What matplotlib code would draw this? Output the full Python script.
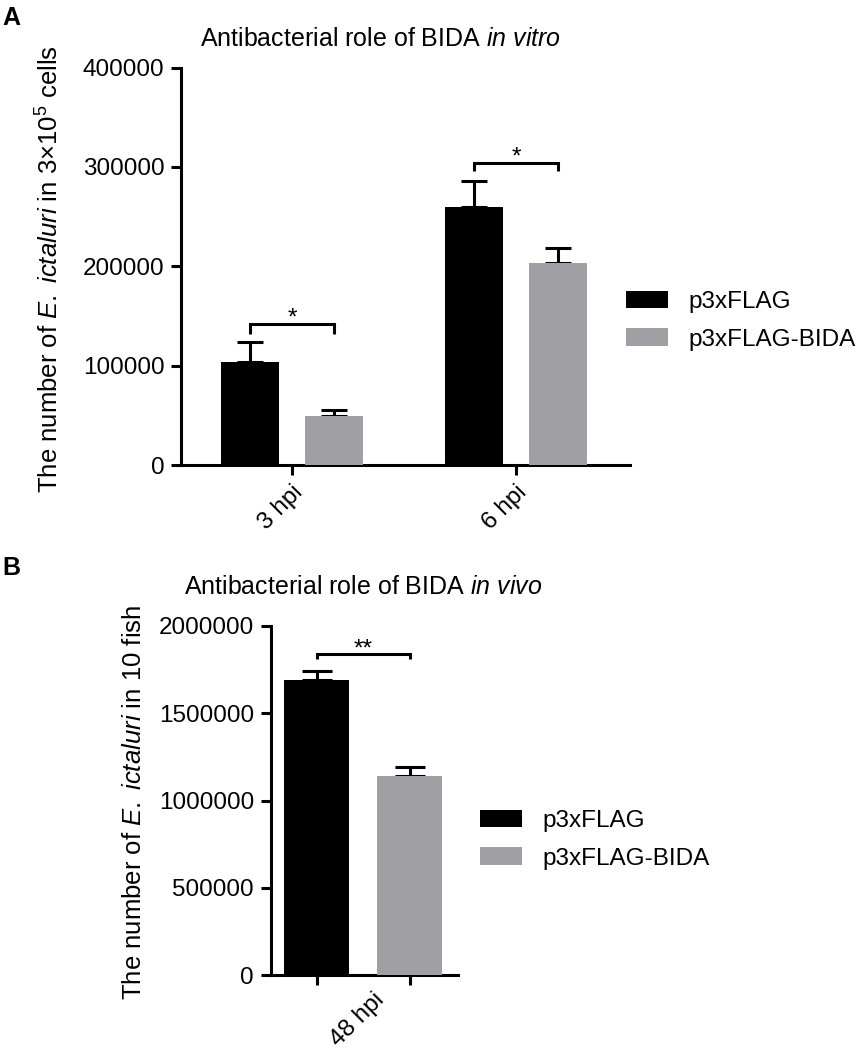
import matplotlib
matplotlib.use("Agg")
import matplotlib.pyplot as plt
import numpy as np

# ---------------- data ----------------
series_names = ["p3xFLAG", "p3xFLAG-BIDA"]
colors = ["#000000", "#a0a0a4"]

a_groups = ["3 hpi", "6 hpi"]
a_ctrl = [104000, 259500]
a_ctrl_err = [19400, 26200]
a_bida = [49800, 203000]
a_bida_err = [5800, 15100]
a_bracket = [141400, 303700]      # bracket heights
a_bracket_drop = [9400, 7600]
a_sig = ["*", "*"]
a_yticks = [0, 100000, 200000, 300000, 400000]

b_groups = ["48 hpi"]
b_ctrl = [1691000]
b_ctrl_err = [50000]
b_bida = [1140000]
b_bida_err = [53000]
b_bracket = [1840000]
b_bracket_drop = [31000]
b_sig = ["**"]
b_yticks = [0, 500000, 1000000, 1500000, 2000000]

# ---------------- style ----------------
plt.rcParams["font.family"] = ["Liberation Sans", "DejaVu Sans"]
plt.rcParams["mathtext.fontset"] = "custom"
plt.rcParams["mathtext.rm"] = "Liberation Sans"
plt.rcParams["mathtext.it"] = "Liberation Sans:italic"
plt.rcParams["mathtext.bf"] = "Liberation Sans:bold"

FS = 17.5
FS_LAB = 18.5
FS_TITLE = 18
LW = 2.2

W, H = 863, 1050
fig = plt.figure(figsize=(W / 100, H / 100), dpi=100)


def style_axes(ax):
    for s in ["top", "right"]:
        ax.spines[s].set_visible(False)
    for s in ["left", "bottom"]:
        ax.spines[s].set_linewidth(LW)
    ax.tick_params(axis="both", width=LW, length=7, labelsize=FS, pad=5)


def draw_panel(ax, groups, ctrl, ctrl_err, bida, bida_err, offs, width, cap):
    x = np.arange(len(groups))
    bars = []
    for vals, errs, off, col in [(ctrl, ctrl_err, -offs, colors[0]),
                                 (bida, bida_err, offs, colors[1])]:
        b = ax.bar(x + off, vals, width=width, color=col, zorder=3)
        ax.errorbar(x + off, vals, yerr=[np.zeros(len(vals)), errs], fmt="none",
                    ecolor="black", elinewidth=LW, capsize=cap, capthick=LW, zorder=2)
        bars.append(b)
    return x, bars


def brackets(ax, x, offs, levels, drops, sigs, star_gap):
    for xi, lv, dr, sg in zip(x, levels, drops, sigs):
        ax.plot([xi - offs, xi - offs, xi + offs, xi + offs],
                [lv - dr, lv, lv, lv - dr], color="black", lw=LW,
                solid_capstyle="butt", solid_joinstyle="miter", clip_on=False, zorder=4)
        ax.text(xi, lv + star_gap, sg, ha="center", va="center", fontsize=FS)


# ---------------- panel A ----------------
axA = fig.add_axes([181 / W, 1 - 465 / H, 449 / W, 397.5 / H])
style_axes(axA)
offA = 42 / 224
xA, barsA = draw_panel(axA, a_groups, a_ctrl, a_ctrl_err, a_bida, a_bida_err,
                       offA, 58 / 224, 9.7)
axA.set_xlim(-111 / 224, 338 / 224)
axA.set_ylim(0, 400000)
axA.set_yticks(a_yticks)
axA.set_yticklabels([str(v) for v in a_yticks])
axA.set_xticks(xA)
axA.set_xticklabels(a_groups, rotation=45, ha="right", rotation_mode="anchor")
brackets(axA, xA, offA, a_bracket, a_bracket_drop, a_sig, 6000)
axA.set_ylabel(r"The number of $\it{E.\ ictaluri}$ in 3×10$^{5}$ cells",
               fontsize=FS_LAB, va="center")
axA.yaxis.set_label_coords(-0.2918, 0.493)
axA.legend([barsA[0], barsA[1]], series_names, loc="upper left",
           bbox_to_anchor=(625.7 / W, 1 - 291 / H), bbox_transform=fig.transFigure,
           frameon=False, borderpad=0, borderaxespad=0, fontsize=FS,
           handlelength=1.73, handleheight=0.73, handletextpad=0.86, labelspacing=0.62)

# ---------------- panel B ----------------
axB = fig.add_axes([270.7 / W, 1 - 975 / H, 187.6 / W, 349 / H])
style_axes(axB)
offB = 46.5 / 224
xB, barsB = draw_panel(axB, b_groups, b_ctrl, b_ctrl_err, b_bida, b_bida_err,
                       offB, 65 / 224, 10.8)
axB.set_xlim(-92.3 / 224, 95.3 / 224)
axB.set_ylim(0, 2000000)
axB.set_yticks(b_yticks)
axB.set_yticklabels([str(v) for v in b_yticks])
axB.set_xticks(np.concatenate([xB - offB, xB + offB]))
axB.set_xticklabels([])
axB.set_xticks(xB + 10 / 224, minor=True)
axB.set_xticklabels(b_groups, minor=True, rotation=45, ha="right", rotation_mode="anchor")
axB.tick_params(axis="x", which="minor", length=0, labelsize=FS, pad=10)
brackets(axB, xB, offB, b_bracket, b_bracket_drop, b_sig, 28000)
axB.set_ylabel(r"The number of $\it{E.\ ictaluri}$ in 10 fish", fontsize=FS_LAB, va="center")
axB.yaxis.set_label_coords(-0.7287, 0.496)
axB.legend([barsB[0], barsB[1]], series_names, loc="upper left",
           bbox_to_anchor=(480 / W, 1 - 810 / H), bbox_transform=fig.transFigure,
           frameon=False, borderpad=0, borderaxespad=0, fontsize=FS,
           handlelength=1.73, handleheight=0.73, handletextpad=0.86, labelspacing=0.62)

# ---------------- titles & panel letters ----------------
fig.text(380.3 / W, 1 - 39 / H, r"Antibacterial role of BIDA $\it{in\ vitro}$",
         ha="center", va="center", fontsize=FS_TITLE)
fig.text(363 / W, 1 - 587 / H, r"Antibacterial role of BIDA $\it{in\ vivo}$",
         ha="center", va="center", fontsize=FS_TITLE)
fig.text(2 / W, 1 - 18 / H, "A", ha="left", va="center", fontsize=18, fontweight="bold")
fig.text(2 / W, 1 - 568 / H, "B", ha="left", va="center", fontsize=18, fontweight="bold")

fig.savefig("out.png", dpi=100)
